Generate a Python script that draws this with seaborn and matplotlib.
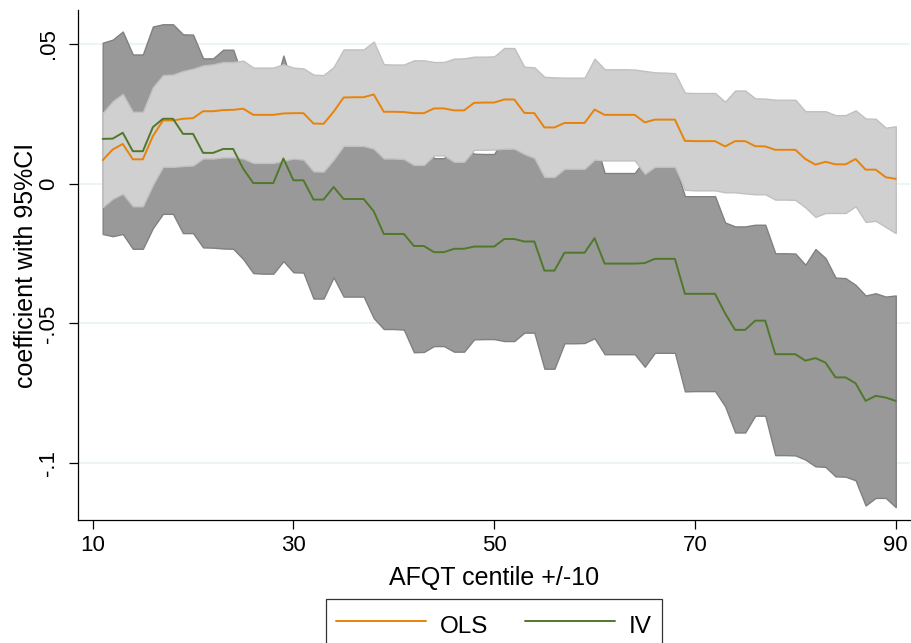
import matplotlib
matplotlib.use("Agg")
import matplotlib.pyplot as plt
import seaborn as sns
import pandas as pd
from matplotlib.lines import Line2D

# ---------------- data ----------------
centile = list(range(11, 91))

ols = [0.0084, 0.0122, 0.0142, 0.0087, 0.0087, 0.0170, 0.0226, 0.0226, 0.0232, 0.0234,
       0.0259, 0.0259, 0.0263, 0.0264, 0.0268, 0.0246, 0.0246, 0.0246, 0.0251, 0.0252,
       0.0252, 0.0215, 0.0214, 0.0257, 0.0308, 0.0309, 0.0309, 0.0319, 0.0257, 0.0257,
       0.0256, 0.0252, 0.0252, 0.0269, 0.0269, 0.0262, 0.0262, 0.0289, 0.0290, 0.0290,
       0.0301, 0.0301, 0.0253, 0.0252, 0.0201, 0.0201, 0.0217, 0.0217, 0.0217, 0.0265,
       0.0246, 0.0246, 0.0246, 0.0246, 0.0219, 0.0229, 0.0229, 0.0229, 0.0153, 0.0152,
       0.0152, 0.0152, 0.0133, 0.0152, 0.0152, 0.0134, 0.0133, 0.0121, 0.0121, 0.0121,
       0.0088, 0.0068, 0.0078, 0.0069, 0.0069, 0.0088, 0.0050, 0.0050, 0.0023, 0.0017]

ols_hi = [0.0253, 0.0295, 0.0321, 0.0257, 0.0257, 0.0345, 0.0388, 0.0390, 0.0403, 0.0411,
          0.0423, 0.0427, 0.0435, 0.0435, 0.0440, 0.0415, 0.0415, 0.0415, 0.0427, 0.0415,
          0.0412, 0.0390, 0.0388, 0.0417, 0.0480, 0.0480, 0.0480, 0.0508, 0.0427, 0.0426,
          0.0426, 0.0441, 0.0441, 0.0435, 0.0435, 0.0447, 0.0448, 0.0454, 0.0454, 0.0455,
          0.0485, 0.0485, 0.0418, 0.0416, 0.0382, 0.0380, 0.0379, 0.0379, 0.0379, 0.0447,
          0.0409, 0.0409, 0.0409, 0.0408, 0.0403, 0.0398, 0.0397, 0.0395, 0.0325, 0.0324,
          0.0324, 0.0324, 0.0293, 0.0333, 0.0333, 0.0305, 0.0304, 0.0300, 0.0300, 0.0300,
          0.0259, 0.0259, 0.0259, 0.0245, 0.0245, 0.0262, 0.0233, 0.0232, 0.0200, 0.0205]

ols_lo = [-0.0084, -0.0054, -0.0036, -0.0081, -0.0081, -0.0004, 0.0060, 0.0060, 0.0063, 0.0065,
          0.0090, 0.0090, 0.0094, 0.0094, 0.0090, 0.0074, 0.0074, 0.0074, 0.0082, 0.0090,
          0.0086, 0.0044, 0.0043, 0.0086, 0.0135, 0.0135, 0.0135, 0.0125, 0.0090, 0.0090,
          0.0088, 0.0067, 0.0067, 0.0101, 0.0101, 0.0078, 0.0078, 0.0121, 0.0121, 0.0122,
          0.0125, 0.0125, 0.0106, 0.0092, 0.0024, 0.0024, 0.0053, 0.0053, 0.0053, 0.0086,
          0.0083, 0.0083, 0.0083, 0.0083, 0.0035, 0.0060, 0.0060, 0.0060, -0.0022, -0.0024,
          -0.0024, -0.0024, -0.0031, -0.0031, -0.0035, -0.0038, -0.0038, -0.0057, -0.0057, -0.0058,
          -0.0085, -0.0119, -0.0105, -0.0105, -0.0105, -0.0081, -0.0137, -0.0133, -0.0155, -0.0177]

iv = [0.0160, 0.0161, 0.0182, 0.0116, 0.0116, 0.0202, 0.0232, 0.0232, 0.0178, 0.0178,
      0.0110, 0.0110, 0.0124, 0.0124, 0.0053, 0.0002, 0.0002, 0.0002, 0.0090, 0.0012,
      0.0012, -0.0057, -0.0057, -0.0012, -0.0055, -0.0055, -0.0055, -0.0099, -0.0180, -0.0180,
      -0.0180, -0.0223, -0.0223, -0.0245, -0.0245, -0.0233, -0.0233, -0.0225, -0.0225, -0.0225,
      -0.0198, -0.0198, -0.0207, -0.0207, -0.0311, -0.0311, -0.0247, -0.0247, -0.0247, -0.0195,
      -0.0286, -0.0286, -0.0286, -0.0286, -0.0284, -0.0269, -0.0269, -0.0269, -0.0394, -0.0394,
      -0.0394, -0.0394, -0.0464, -0.0523, -0.0523, -0.0490, -0.0490, -0.0610, -0.0610, -0.0610,
      -0.0633, -0.0624, -0.0640, -0.0693, -0.0693, -0.0714, -0.0777, -0.0759, -0.0765, -0.0777]

iv_hi = [0.0504, 0.0515, 0.0544, 0.0462, 0.0462, 0.0562, 0.0570, 0.0570, 0.0534, 0.0533,
         0.0448, 0.0448, 0.0479, 0.0479, 0.0376, 0.0324, 0.0326, 0.0326, 0.0458, 0.0341,
         0.0342, 0.0297, 0.0297, 0.0311, 0.0294, 0.0294, 0.0294, 0.0283, 0.0160, 0.0160,
         0.0162, 0.0157, 0.0156, 0.0091, 0.0091, 0.0135, 0.0135, 0.0107, 0.0106, 0.0106,
         0.0167, 0.0167, 0.0119, 0.0119, 0.0040, 0.0040, 0.0077, 0.0077, 0.0076, 0.0163,
         0.0038, 0.0038, 0.0038, 0.0038, 0.0087, 0.0067, 0.0067, 0.0067, -0.0045, -0.0045,
         -0.0045, -0.0045, -0.0139, -0.0153, -0.0153, -0.0147, -0.0147, -0.0249, -0.0249, -0.0250,
         -0.0290, -0.0234, -0.0266, -0.0336, -0.0338, -0.0362, -0.0400, -0.0392, -0.0404, -0.0400]

iv_lo = [-0.0180, -0.0188, -0.0180, -0.0233, -0.0233, -0.0159, -0.0108, -0.0108, -0.0177, -0.0177,
         -0.0228, -0.0229, -0.0232, -0.0233, -0.0270, -0.0320, -0.0322, -0.0322, -0.0277, -0.0317,
         -0.0318, -0.0411, -0.0411, -0.0335, -0.0404, -0.0404, -0.0404, -0.0481, -0.0520, -0.0520,
         -0.0522, -0.0603, -0.0602, -0.0581, -0.0581, -0.0601, -0.0601, -0.0557, -0.0556, -0.0556,
         -0.0563, -0.0563, -0.0533, -0.0533, -0.0662, -0.0662, -0.0571, -0.0571, -0.0570, -0.0553,
         -0.0610, -0.0610, -0.0610, -0.0610, -0.0655, -0.0605, -0.0605, -0.0605, -0.0743, -0.0742,
         -0.0742, -0.0742, -0.0796, -0.0890, -0.0890, -0.0830, -0.0830, -0.0971, -0.0971, -0.0972,
         -0.0987, -0.1011, -0.1013, -0.1047, -0.1048, -0.1061, -0.1151, -0.1124, -0.1124, -0.1157]

series_names = ["OLS", "IV"]
x_ticks = [10, 30, 50, 70, 90]
y_ticks = [0.05, 0.0, -0.05, -0.1]
y_tick_labels = [".05", "0", "-.05", "-.1"]
x_label = "AFQT centile +/-10"
y_label = "coefficient with 95%CI"

# ---------------- style ----------------
sns.set_style("white")
plt.rcParams["font.family"] = ["Liberation Sans", "DejaVu Sans"]
plt.rcParams["text.color"] = "black"
plt.rcParams["axes.labelcolor"] = "black"
plt.rcParams["xtick.color"] = "black"
plt.rcParams["ytick.color"] = "black"

C_OLS = "#e8830a"
C_IV = "#50782a"
FS = 16
FS_TITLE = 18
FS_LEG = 17.5

fig = plt.figure(figsize=(9.11, 6.43), dpi=100)
ax = fig.add_axes([78 / 911, 1 - 520 / 643, (910 - 78) / 911, (520 - 10) / 643])

ax.fill_between(centile, iv_lo, iv_hi, facecolor="#999999", edgecolor="#808080",
                linewidth=1.0, zorder=1)
ax.fill_between(centile, ols_lo, ols_hi, facecolor="#d0d0d0", edgecolor="#c0c0c0",
                linewidth=1.0, zorder=2)

df = pd.DataFrame({
    "centile": centile + centile,
    "coef": ols + iv,
    "model": [series_names[0]] * len(ols) + [series_names[1]] * len(iv),
})
sns.lineplot(data=df, x="centile", y="coef", hue="model",
             palette={"OLS": C_OLS, "IV": C_IV}, linewidth=1.4,
             legend=False, ax=ax, zorder=3)

ax.set_xlim(8.54, 91.42)
ax.set_ylim(-0.1203, 0.0621)
ax.set_xticks(x_ticks)
ax.set_xticklabels([str(t) for t in x_ticks])
ax.set_yticks(y_ticks)
ax.set_yticklabels(y_tick_labels, rotation=90, va="center")
ax.set_xlabel("")
ax.set_ylabel("")

ax.set_axisbelow(True)
ax.yaxis.grid(True, color="#eaf2f3", linewidth=1.2)
ax.xaxis.grid(False)

for s in ["top", "right"]:
    ax.spines[s].set_visible(False)
for s in ["left", "bottom"]:
    ax.spines[s].set_color("black")
    ax.spines[s].set_linewidth(0.9)

ax.tick_params(axis="both", direction="out", length=6.5, width=0.9, color="black",
               labelcolor="black", labelsize=FS, left=True, bottom=True)
ax.tick_params(axis="y", pad=7)
ax.tick_params(axis="x", pad=4)

fig.text(494 / 911, 1 - 578 / 643, x_label, ha="center", va="center",
         fontsize=FS_TITLE, color="black")
fig.text(26 / 911, 1 - 265 / 643, y_label, ha="center", va="center", rotation=90,
         fontsize=FS_TITLE, color="black")

handles = [Line2D([], [], color=C_OLS, linewidth=1.4),
           Line2D([], [], color=C_IV, linewidth=1.4)]
leg = fig.legend(handles, series_names, loc="upper left",
                 bbox_to_anchor=(326 / 911, 1 - 599 / 643), ncol=2, frameon=True,
                 fancybox=False, edgecolor="black", handlelength=3.7,
                 handleheight=1.6, handletextpad=0.58, columnspacing=1.5,
                 borderpad=0.42, borderaxespad=0, fontsize=FS_LEG,
                 labelcolor="black")
leg.get_frame().set_linewidth(0.9)

fig.savefig("out.png", dpi=100)
